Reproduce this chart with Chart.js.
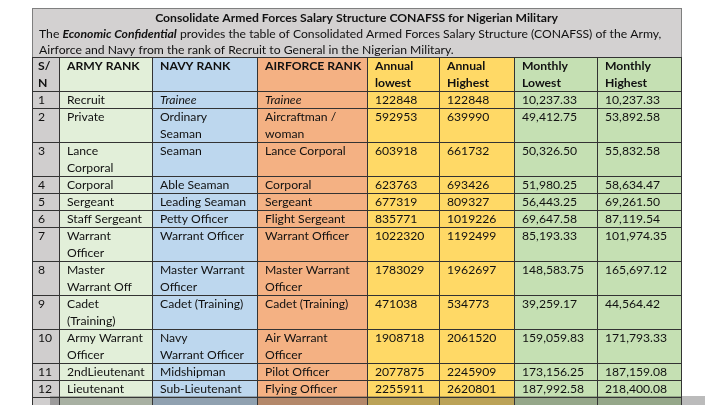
<!DOCTYPE html>
<html>
<head>
<meta charset="utf-8">
<script src="https://cdn.jsdelivr.net/npm/chart.js@4"></script>
<style>
  html, body { margin: 0; padding: 0; background: #fff; }
  #wrap { width: 720px; height: 405px; }
</style>
</head>
<body>
<div id="wrap"><canvas id="c"></canvas></div>
<script>
// table data
const title = 'Consolidate Armed Forces Salary Structure CONAFSS for Nigerian Military';
const introLines = [
    [['The ', ''], ['Economic Confidential', 'bi'], [' provides the table of Consolidated Armed Forces Salary Structure (CONAFSS) of the Army,', '']],
    [['Airforce and Navy from the rank of Recruit to General in the Nigerian Military.', '']]
];
const headers = ['S/\nN', 'ARMY RANK', 'NAVY RANK', 'AIRFORCE RANK', 'Annual\nlowest', 'Annual\nHighest', 'Monthly\nLowest', 'Monthly\nHighest'];
const sn = ['1', '2', '3', '4', '5', '6', '7', '8', '9', '10', '11', '12'];
const armyRank = ['Recruit', 'Private', 'Lance\nCorporal', 'Corporal', 'Sergeant', 'Staff Sergeant', 'Warrant\nOfficer', 'Master\nWarrant Off', 'Cadet\n(Training)', 'Army Warrant\nOfficer', '2ndLieutenant', 'Lieutenant'];
const navyRank = ['Trainee', 'Ordinary\nSeaman', 'Seaman', 'Able Seaman', 'Leading Seaman', 'Petty Officer', 'Warrant Officer', 'Master Warrant\nOfficer', 'Cadet (Training)', 'Navy\nWarrant Officer', 'Midshipman', 'Sub-Lieutenant'];
const airforceRank = ['Trainee', 'Aircraftman /\nwoman', 'Lance Corporal', 'Corporal', 'Sergeant', 'Flight Sergeant', 'Warrant Officer', 'Master Warrant\nOfficer', 'Cadet (Training)', 'Air Warrant\nOfficer', 'Pilot Officer', 'Flying Officer'];
const annualLowest = [122848, 592953, 603918, 623763, 677319, 835771, 1022320, 1783029, 471038, 1908718, 2077875, 2255911];
const annualHighest = [122848, 639990, 661732, 693426, 809327, 1019226, 1192499, 1962697, 534773, 2061520, 2245909, 2620801];
const monthlyLowest = [10237.33, 49412.75, 50326.50, 51980.25, 56443.25, 69647.58, 85193.33, 148583.75, 39259.17, 159059.83, 173156.25, 187992.58];
const monthlyHighest = [10237.33, 53892.58, 55832.58, 58634.47, 69261.50, 87119.54, 101974.35, 165697.12, 44564.42, 171793.33, 187159.08, 218400.08];
const italicRows = [0]; // "Trainee" is italic in navy / airforce

// layout
const colEdges = [32, 59, 152, 257, 367, 439, 514, 597, 681];
const colFills = ['#d0cece', '#e2efd9', '#bdd7ee', '#f4b183', '#ffd966', '#ffd966', '#c5e0b3', '#c5e0b3'];
const titleTop = 8, tableTop = 57, lineH = 17;
const introWidth = 623; // width of the first intro line in the picture
const fontFamily = 'Lato, "Open Sans", sans-serif';
let fontSize = 14;

const money = v => v.toLocaleString('en-US', { minimumFractionDigits: 2, maximumFractionDigits: 2 });

const rows = sn.map((s, i) => [
    s, armyRank[i], navyRank[i], airforceRank[i],
    String(annualLowest[i]), String(annualHighest[i]),
    money(monthlyLowest[i]), money(monthlyHighest[i])
]);

function fnt(style) {
    const b = style.includes('b') ? 'bold ' : '';
    const it = style.includes('i') ? 'italic ' : '';
    return it + b + fontSize.toFixed(2) + 'px ' + fontFamily;
}

function segWidth(ctx, segs) {
    let w = 0;
    segs.forEach(([txt, st]) => { ctx.font = fnt(st); w += ctx.measureText(txt).width; });
    return w;
}

const tablePlugin = {
    id: 'tablePlugin',
    beforeDatasetsDraw(chart) {
        const ctx = chart.ctx;
        const xs = chart.scales.x, ys = chart.scales.y;
        const X = v => xs.getPixelForValue(v);
        const Y = v => ys.getPixelForValue(v);
        ctx.save();

        // fit the font to the intro line width (Calibri-like metrics)
        fontSize = 14;
        fontSize = 14 * (X(introWidth) - X(0)) / segWidth(ctx, introLines[0]);

        // title block
        ctx.fillStyle = '#d3d1d1';
        ctx.fillRect(X(colEdges[0]), Y(titleTop), X(colEdges[8]) - X(colEdges[0]), Y(tableTop) - Y(titleTop));
        ctx.strokeStyle = '#7f7f7f';
        ctx.lineWidth = 1;
        ctx.strokeRect(Math.round(X(colEdges[0])) + 0.5, Math.round(Y(titleTop)) + 0.5,
            X(colEdges[8]) - X(colEdges[0]), Y(tableTop) - Y(titleTop));

        ctx.fillStyle = '#111';
        ctx.textBaseline = 'middle';
        ctx.font = fnt('b');
        ctx.textAlign = 'center';
        ctx.fillText(title, (X(colEdges[0]) + X(colEdges[8])) / 2, Y(titleTop + 10));
        ctx.textAlign = 'left';
        introLines.forEach((segs, li) => {
            let x = X(colEdges[0] + 7);
            const y = Y(titleTop + 26 + li * 16);
            segs.forEach(([txt, st]) => {
                ctx.font = fnt(st);
                ctx.fillText(txt, x, y);
                x += ctx.measureText(txt).width;
            });
        });

        // cells
        const allRows = [headers].concat(rows).concat([['', '', '', '', '', '', '', '']]);
        let top = tableTop;
        allRows.forEach((row, ri) => {
            const nLines = Math.max(...row.map(t => t.split('\n').length));
            const h = nLines * lineH;
            row.forEach((txt, ci) => {
                const x0 = X(colEdges[ci]), x1 = X(colEdges[ci + 1]);
                const y0 = Y(top), y1 = Y(top + h);
                ctx.fillStyle = colFills[ci];
                ctx.fillRect(x0, y0, x1 - x0, y1 - y0);
                ctx.strokeStyle = '#333';
                ctx.strokeRect(Math.round(x0) + 0.5, Math.round(y0) + 0.5, x1 - x0, y1 - y0);
                let st = '';
                if (ri === 0) st = 'b';
                if (ri > 0 && italicRows.includes(ri - 1) && (ci === 2 || ci === 3)) st = 'i';
                ctx.font = fnt(st);
                ctx.fillStyle = '#111';
                txt.split('\n').forEach((line, k) => {
                    ctx.fillText(line, X(colEdges[ci] + (ci === 0 ? 6 : 8)), Y(top + 9 + k * lineH));
                });
            });
            top += h;
        });

        // shadow band at the bottom of the picture
        ctx.fillStyle = 'rgba(60,60,60,0.35)';
        ctx.fillRect(X(50), Y(396), X(705) - X(50), Y(405) - Y(396));
        ctx.restore();
    }
};

new Chart(document.getElementById('c'), {
    type: 'scatter',
    data: { datasets: [{ data: [] }] },
    options: {
        responsive: true,
        maintainAspectRatio: false,
        animation: false,
        layout: { padding: 0 },
        plugins: { legend: { display: false }, tooltip: { enabled: false } },
        scales: {
            x: { type: 'linear', min: 0, max: 720, display: false },
            y: { type: 'linear', min: 0, max: 405, reverse: true, display: false }
        }
    },
    plugins: [tablePlugin]
});
</script>
</body>
</html>
